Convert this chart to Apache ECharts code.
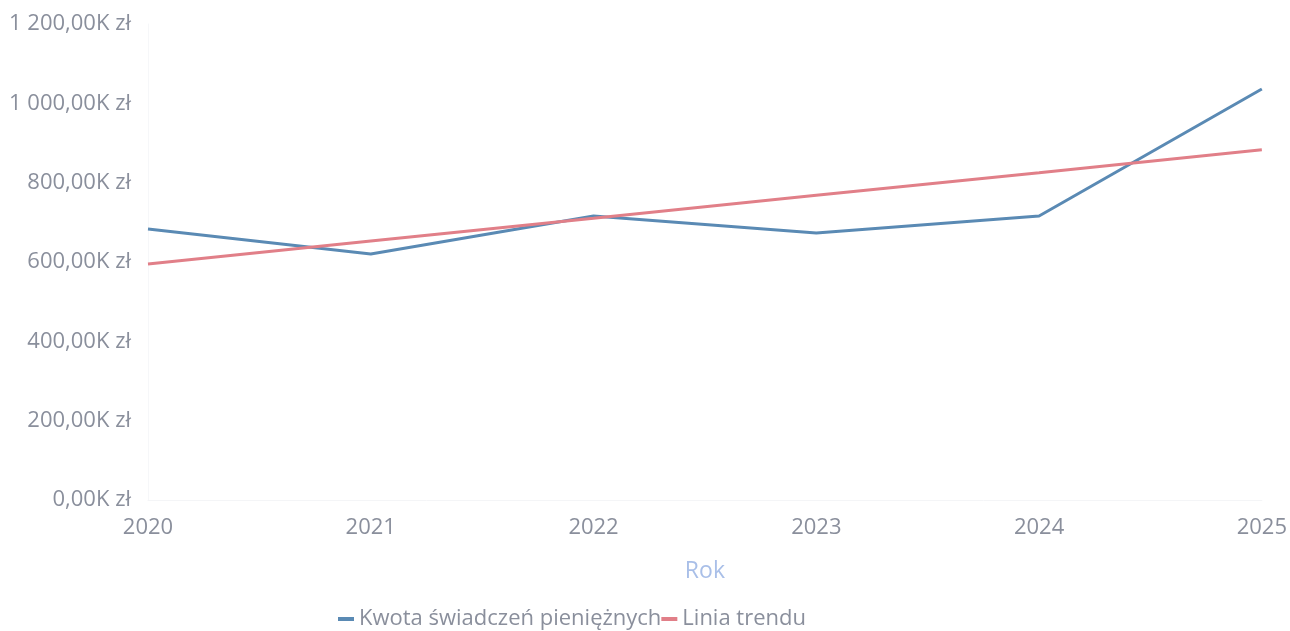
<!DOCTYPE html>
<html><head><meta charset="utf-8">
<script src="https://cdn.jsdelivr.net/npm/echarts@6/dist/echarts.min.js"></script>
<style>html,body{margin:0;padding:0;background:#fff}#c{width:1290px;height:631px}</style>
</head><body><div id="c"></div>
<script>
const years = ['2020','2021','2022','2023','2024','2025'];
const kwota = [683000, 620000, 716000, 673000, 716000, 1036000];
const trend = [595000, 653000, 710000, 768000, 825000, 883000];
const seriesNames = ['Kwota świadczeń pieniężnych', 'Linia trendu'];

function fmt(v){
  const k = (v/1000).toFixed(2);
  let [i,d] = k.split('.');
  i = i.replace(/\B(?=(\d{3})+(?!\d))/g,' ');
  return i + ',' + d + 'K zł';
}
const chart = echarts.init(document.getElementById('c'));
chart.setOption({
  animation:false,
  textStyle:{fontFamily:'"Open Sans", "Noto Sans", sans-serif'},
  grid:{left:148,right:28,top:24,bottom:131},
  legend:{top:603,left:333,itemWidth:16,itemHeight:4,itemGap:0,
    icon:'rect',
    textStyle:{color:'#8a8f9c',fontSize:22,padding:[0,0,0,0]},
    data:seriesNames},
  xAxis:{type:'category',data:years,boundaryGap:false,
    name:'Rok',nameLocation:'middle',nameGap:60,
    nameTextStyle:{color:'#a9bfe8',fontSize:23},
    axisLine:{show:true,lineStyle:{color:'#f4f5f7'}},axisTick:{show:false},
    axisLabel:{color:'#8a8f9c',fontSize:22,margin:17},
    splitLine:{show:false}},
  yAxis:{type:'value',min:0,max:1200000,interval:200000,
    axisLine:{show:true,lineStyle:{color:'#f6f7f9'}},axisTick:{show:false},
    axisLabel:{color:'#8a8f9c',fontSize:22,margin:17,formatter:fmt},
    splitLine:{show:false}},
  series:[
    {name:seriesNames[0],type:'line',data:kwota,symbol:'none',
      lineStyle:{color:'#5a8ab4',width:3},itemStyle:{color:'#5a8ab4'}},
    {name:seriesNames[1],type:'line',data:trend,symbol:'none',
      lineStyle:{color:'#e17f88',width:3},itemStyle:{color:'#e17f88'}}
  ]
});
</script></body></html>
